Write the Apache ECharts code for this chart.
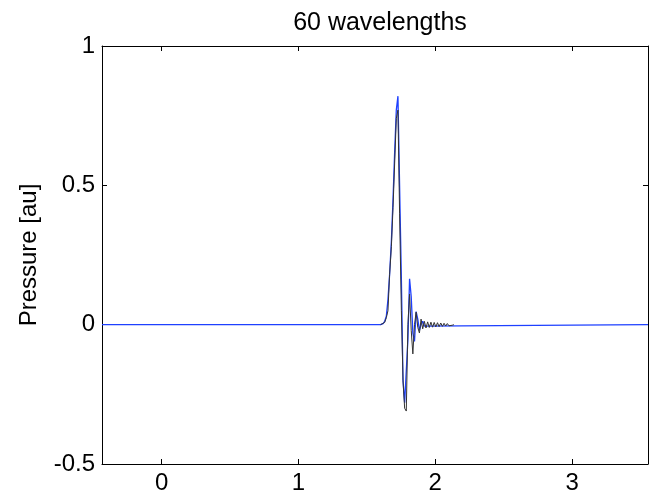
<!DOCTYPE html>
<html>
<head>
<meta charset="utf-8">
<script src="https://cdn.jsdelivr.net/npm/echarts@6/dist/echarts.min.js"></script>
<style>
html, body { margin: 0; padding: 0; background: #fff; }
#chart { width: 649px; height: 498px; }
</style>
</head>
<body>
<div id="chart"></div>
<script>
var titleText = '60 wavelengths';
var yName = 'Pressure [au]';
var xTicks = [0, 1, 2, 3];
var xMin = -0.4365, xMax = 3.555;
var yMin = -0.5, yMax = 1;

// blue trace (whole range)
var xBlue = [-0.4365, 1.600, 1.618, 1.630, 1.642, 1.654, 1.666, 1.679, 1.691, 1.703, 1.715, 1.727, 1.739, 1.752, 1.764, 1.776, 1.788, 1.800, 1.812, 1.824, 1.836, 1.848, 1.860, 1.872, 1.884, 1.896, 1.908, 1.920, 1.932, 3.555];
var yBlue = [0, 0, 0.004, 0.012, 0.03, 0.09, 0.18, 0.30, 0.45, 0.62, 0.77, 0.82, 0.50, 0.165, -0.20, -0.28, -0.285, -0.05, 0.165, 0.10, -0.03, -0.06, 0.047, 0.02, -0.02, 0.0, 0.012, -0.005, 0.0, 0];

// black trace (pulse only, with ringing tail)
var xBlack = [1.600, 1.630, 1.642, 1.654, 1.666, 1.679, 1.691, 1.703, 1.715, 1.727, 1.739, 1.752, 1.764, 1.776, 1.788, 1.800, 1.812, 1.824, 1.836, 1.848, 1.860, 1.872, 1.884, 1.896, 1.908, 1.920, 1.932, 1.944, 1.956, 1.968, 1.980, 1.992, 2.004, 2.016, 2.028, 2.040, 2.052, 2.064, 2.076, 2.088, 2.100, 2.112, 2.124, 2.136];
var yBlack = [0, 0.008, 0.025, 0.05, 0.18, 0.28, 0.42, 0.58, 0.74, 0.77, 0.40, 0.05, -0.20, -0.30, -0.31, 0.0, 0.11, -0.02, -0.105, 0.0, 0.045, -0.01, -0.03, 0.02, -0.015, 0.012, -0.012, 0.01, -0.01, 0.009, -0.009, 0.008, -0.008, 0.007, -0.007, 0.006, -0.006, 0.005, -0.005, 0.004, -0.004, 0.003, -0.002, 0];

function pairs(xs, ys) {
    var out = [];
    for (var i = 0; i < xs.length; i++) {
        out.push([xs[i], ys[i]]);
    }
    return out;
}

var font = 'Liberation Sans, Arial, Helvetica, sans-serif';
var myChart = echarts.init(document.getElementById('chart'));

var tickStyle = { show: true, inside: true, length: 5, lineStyle: { color: '#000', width: 1 } };

var option = {
    backgroundColor: '#fff',
    animation: false,
    title: {
        text: titleText,
        left: 375,
        textAlign: 'center',
        top: 6,
        textStyle: { fontFamily: font, fontSize: 25, fontWeight: 'normal', color: '#000' }
    },
    grid: { left: 102, right: 1, top: 46, bottom: 34 },
    xAxis: [{
        type: 'value',
        min: xMin,
        max: xMax,
        axisLine: { show: true, onZero: false, lineStyle: { color: '#000', width: 1 } },
        axisTick: Object.assign({ customValues: xTicks }, tickStyle),
        axisLabel: { customValues: xTicks, color: '#000', fontFamily: font, fontSize: 24, margin: 7 },
        splitLine: { show: false }
    }, {
        type: 'value',
        position: 'top',
        min: xMin,
        max: xMax,
        axisLine: { show: true, onZero: false, lineStyle: { color: '#000', width: 1 } },
        axisTick: Object.assign({ customValues: xTicks }, tickStyle),
        axisLabel: { show: false },
        splitLine: { show: false }
    }],
    yAxis: [{
        type: 'value',
        min: yMin,
        max: yMax,
        interval: 0.5,
        name: yName,
        nameLocation: 'middle',
        nameGap: 61,
        nameTextStyle: { color: '#000', fontFamily: font, fontSize: 24 },
        axisLine: { show: true, onZero: false, lineStyle: { color: '#000', width: 1 } },
        axisTick: tickStyle,
        axisLabel: { color: '#000', fontFamily: font, fontSize: 24, margin: 7 },
        splitLine: { show: false }
    }, {
        type: 'value',
        position: 'right',
        min: yMin,
        max: yMax,
        interval: 0.5,
        axisLine: { show: true, onZero: false, lineStyle: { color: '#000', width: 1 } },
        axisTick: tickStyle,
        axisLabel: { show: false },
        splitLine: { show: false }
    }],
    series: [{
        type: 'line',
        name: 'blue',
        data: pairs(xBlue, yBlue),
        showSymbol: false,
        lineStyle: { color: '#1e40ff', width: 1.3 },
        z: 2
    }, {
        type: 'line',
        name: 'black',
        data: pairs(xBlack, yBlack),
        showSymbol: false,
        lineStyle: { color: '#333', width: 1 },
        z: 3
    }]
};

myChart.setOption(option);
</script>
</body>
</html>
